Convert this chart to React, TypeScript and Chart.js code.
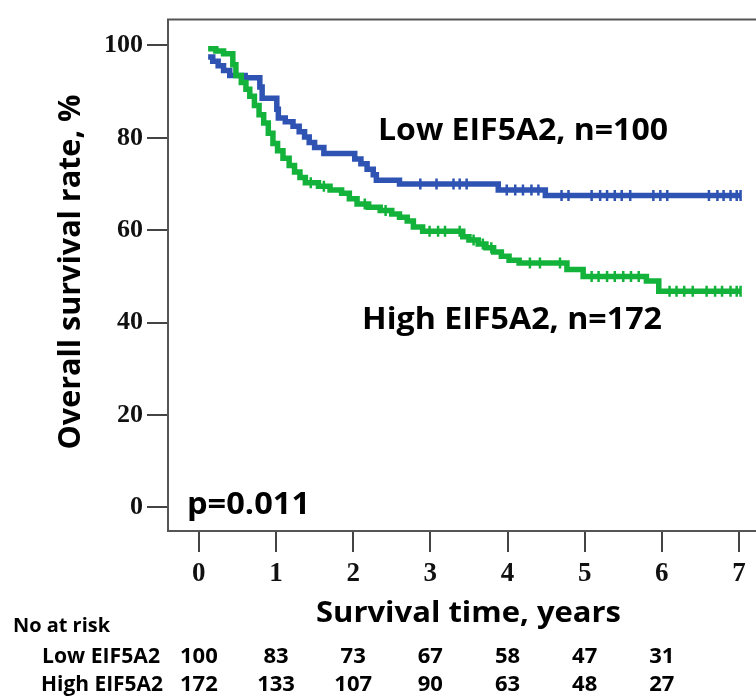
import React, { useEffect, useRef } from "react";
import { Chart, registerables } from "chart.js";

Chart.register(...registerables);

// ---------- data ----------
const xTickValues = [0, 1, 2, 3, 4, 5, 6, 7];
const yTickValues = [0, 20, 40, 60, 80, 100];

const lowTimes = [0.12, 0.18, 0.25, 0.32, 0.4, 0.6, 0.79, 0.82, 1.01, 1.03, 1.12, 1.22, 1.3, 1.37, 1.43, 1.5, 1.62, 2.02, 2.1, 2.18, 2.26, 2.3, 2.6, 3.88, 4.49, 7.02];
const lowSurv = [97.5, 96.6, 95.6, 94.6, 93.5, 93.0, 91.0, 88.6, 86.2, 84.3, 83.5, 82.5, 81.3, 80.2, 79.0, 77.9, 76.6, 75.4, 74.4, 73.2, 72.0, 70.8, 70.0, 68.7, 67.5, 67.5];

const highTimes = [0.12, 0.22, 0.32, 0.44, 0.48, 0.55, 0.61, 0.66, 0.72, 0.78, 0.84, 0.9, 0.96, 1.02, 1.09, 1.17, 1.24, 1.31, 1.38, 1.55, 1.7, 1.85, 1.95, 2.05, 2.2, 2.35, 2.5, 2.6, 2.7, 2.78, 2.9, 3.42, 3.5, 3.62, 3.72, 3.82, 3.92, 4.02, 4.15, 4.77, 4.98, 5.8, 5.96, 7.02];
const highSurv = [99.3, 98.8, 98.2, 95.8, 93.5, 92.0, 90.5, 89.0, 87.0, 85.0, 83.2, 81.0, 78.8, 77.2, 75.6, 74.0, 72.6, 71.4, 70.3, 69.5, 68.7, 68.0, 66.8, 65.7, 65.0, 64.3, 63.5, 62.8, 62.0, 60.7, 59.8, 58.6, 57.9, 57.0, 56.2, 55.3, 54.4, 53.5, 52.9, 51.5, 50.0, 49.0, 46.8, 46.8];

const lowCensorTimes = [2.87, 3.08, 3.3, 3.38, 3.47, 3.99, 4.1, 4.2, 4.31, 4.4, 4.7, 4.79, 5.09, 5.2, 5.29, 5.39, 5.48, 5.59, 5.89, 5.98, 6.07, 6.61, 6.72, 6.8, 6.89, 6.97, 7.02];
const highCensorTimes = [1.45, 1.62, 2.15, 2.42, 2.99, 3.1, 3.19, 3.38, 3.56, 3.68, 3.79, 4.29, 4.42, 4.68, 5.09, 5.18, 5.29, 5.39, 5.5, 5.6, 5.7, 6.1, 6.19, 6.29, 6.4, 6.58, 6.69, 6.78, 6.89, 6.97, 7.02];

const riskTimes = [0, 1, 2, 3, 4, 5, 6];
const lowAtRisk = [100, 83, 73, 67, 58, 47, 31];
const highAtRisk = [172, 133, 107, 90, 63, 48, 27];

const groupNames = ["Low EIF5A2", "High EIF5A2"];
const curveLabels = ["Low EIF5A2, n=100", "High EIF5A2, n=172"];
const pValueText = "p=0.011";
const xTitleText = "Survival time, years";
const yTitleText = "Overall survival rate, %";
const riskHeaderText = "No at risk";

// ---------- styles ----------
const BLUE = "#2E53B2";
const GREEN = "#13B23B";
const AXIS = "#555555";
const SANS = '"Open Sans", "Noto Sans", "Liberation Sans", sans-serif';
const SERIF = '"Liberation Serif", "DejaVu Serif", serif';

function survivalAt(times: number[], surv: number[], t: number) {
  let s = surv[0];
  for (let i = 0; i < times.length; i++) if (times[i] <= t) s = surv[i];
  return s;
}

function fitText(ctx: CanvasRenderingContext2D, text: string, x: number, y: number, size: number, width: number) {
  ctx.save();
  ctx.font = `bold ${size}px ${SANS}`;
  const w = ctx.measureText(text).width;
  ctx.translate(x, y);
  ctx.scale(width / w, 1);
  ctx.textAlign = "left";
  ctx.textBaseline = "alphabetic";
  ctx.fillStyle = "#000";
  ctx.fillText(text, 0, 0);
  ctx.restore();
}

const decorPlugin = {
  id: "decor",
  afterDraw(chart: any) {
    const ctx: CanvasRenderingContext2D = chart.ctx;
    const area = chart.chartArea;
    const xs = chart.scales.x;
    // top frame line
    ctx.save();
    ctx.strokeStyle = AXIS;
    ctx.lineWidth = 2;
    ctx.beginPath();
    ctx.moveTo(area.left - 1, area.top);
    ctx.lineTo(area.right, area.top);
    ctx.stroke();
    ctx.restore();

    fitText(ctx, curveLabels[0], 378, 140, 30, 290);
    fitText(ctx, curveLabels[1], 362, 329, 30, 300);
    fitText(ctx, pValueText, 187, 514, 30, 123);
    fitText(ctx, xTitleText, 316, 622, 29, 305);
    fitText(ctx, riskHeaderText, 13, 632, 20, 97);
    fitText(ctx, groupNames[0], 42, 663, 22, 118);
    fitText(ctx, groupNames[1], 41, 691, 22, 122);

    // y title rotated
    ctx.save();
    ctx.font = `bold 31px ${SANS}`;
    const tw = ctx.measureText(yTitleText).width;
    ctx.translate(80, 272);
    ctx.rotate(-Math.PI / 2);
    ctx.scale(355 / tw, 1);
    ctx.textAlign = "center";
    ctx.textBaseline = "alphabetic";
    ctx.fillStyle = "#000";
    ctx.fillText(yTitleText, 0, 0);
    ctx.restore();

    // numbers at risk
    ctx.save();
    ctx.font = `bold 22px ${SANS}`;
    ctx.fillStyle = "#000";
    ctx.textAlign = "center";
    ctx.textBaseline = "alphabetic";
    riskTimes.forEach((t, i) => {
      const px = xs.getPixelForValue(t);
      ctx.fillText(String(lowAtRisk[i]), px, 663);
      ctx.fillText(String(highAtRisk[i]), px, 691);
    });
    ctx.restore();
  },
};

export default function App() {
  const ref = useRef<HTMLCanvasElement | null>(null);

  useEffect(() => {
    if (!ref.current) return;
    const lowLine = lowTimes.map((t, i) => ({ x: t, y: lowSurv[i] }));
    const highLine = highTimes.map((t, i) => ({ x: t, y: highSurv[i] }));
    const lowCens = lowCensorTimes.map((t) => ({ x: t, y: survivalAt(lowTimes, lowSurv, t) }));
    const highCens = highCensorTimes.map((t) => ({ x: t, y: survivalAt(highTimes, highSurv, t) }));

    const chart = new Chart(ref.current, {
      type: "line",
      data: {
        datasets: [
          { label: "Low", data: lowLine, borderColor: BLUE, borderWidth: 5.5, stepped: true, pointRadius: 0, fill: false, order: 3 } as any,
          { label: "LowC", type: "scatter", data: lowCens, borderColor: BLUE, backgroundColor: BLUE, pointStyle: "line", rotation: 90, pointRadius: 5.5, borderWidth: 2.5, showLine: false, order: 2 } as any,
          { label: "High", data: highLine, borderColor: GREEN, borderWidth: 5.5, stepped: true, pointRadius: 0, fill: false, order: 1 } as any,
          { label: "HighC", type: "scatter", data: highCens, borderColor: GREEN, backgroundColor: GREEN, pointStyle: "line", rotation: 90, pointRadius: 5.5, borderWidth: 2.5, showLine: false, order: 0 } as any,
        ],
      },
      options: {
        animation: false,
        responsive: false,
        devicePixelRatio: 1,
        layout: { padding: { top: 14, left: 0, right: 0, bottom: 0 }, autoPadding: false } as any,
        plugins: { legend: { display: false }, tooltip: { enabled: false } },
        scales: {
          x: {
            type: "linear",
            min: -0.4,
            max: 7.22,
            afterBuildTicks: (s: any) => { s.ticks = xTickValues.map((v) => ({ value: v })); },
            afterFit: (s: any) => { s.height = 166; },
            border: { display: true, color: AXIS, width: 2 },
            grid: { drawOnChartArea: false, drawTicks: true, tickLength: 21, color: "#444", lineWidth: 2 },
            ticks: { color: "#111", font: { family: SERIF, size: 27, weight: "bold" }, padding: 6, maxRotation: 0, autoSkip: false },
          },
          y: {
            type: "linear",
            min: -5.1,
            max: 105.6,
            afterBuildTicks: (s: any) => { s.ticks = yTickValues.map((v) => ({ value: v })); },
            afterFit: (s: any) => { s.width = 168; },
            border: { display: true, color: AXIS, width: 2 },
            grid: { drawOnChartArea: false, drawTicks: true, tickLength: 21, color: "#444", lineWidth: 2 },
            ticks: { color: "#111", font: { family: SERIF, size: 26, weight: "bold" }, padding: 4, autoSkip: false },
          },
        },
      } as any,
      plugins: [decorPlugin],
    });
    return () => chart.destroy();
  }, []);

  return (
    <div style={{ position: "absolute", left: 0, top: 0, width: 756, height: 697, background: "#fff" }}>
      <canvas ref={ref} width={756} height={697} style={{ display: "block", width: 756, height: 697 }} />
    </div>
  );
}
